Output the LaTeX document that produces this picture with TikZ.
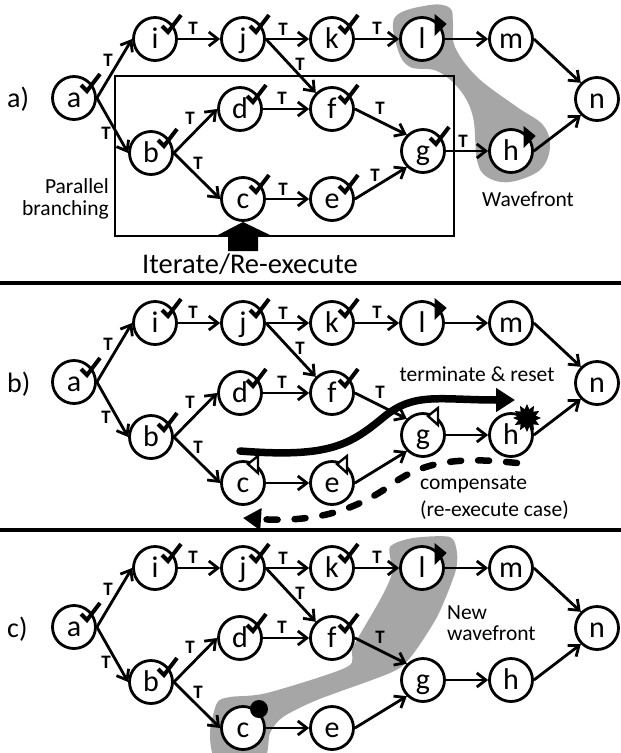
\documentclass[tikz,border=0pt]{standalone}
\usepackage{fontspec}
\setmainfont{Carlito}
\usetikzlibrary{arrows.meta,shapes.geometric}
\definecolor{wave}{HTML}{A6A6A6}
\tikzset{
  tasknode/.style={circle,draw=black,fill=white,line width=2.8pt,minimum size=43pt,inner sep=0pt,text height=18pt,text depth=0pt,font=\fontsize{30}{30}\selectfont},
  flow/.style={line width=2.8pt,-{Straight Barb[length=9pt,width=14pt,line width=2.8pt]}},
  checkmark/.style={line width=4pt,line cap=butt,line join=miter},
  tlabel/.style={font=\bfseries\fontsize{19}{19}\selectfont,inner sep=0pt},
  caption/.style={font=\fontsize{21.5}{21.5}\selectfont,inner sep=0pt},
  flagfull/.style={fill=black,draw=black,line width=1pt},
  flaghollow/.style={fill=white,draw=black,line width=2.4pt},
  wavefill/.style={fill=wave,draw=none},
  sep/.style={line width=4pt},
}
\newcommand{\chk}[1]{\draw[checkmark] ([shift={(7pt,13pt)}]#1.center) -- ([shift={(13pt,7pt)}]#1.center) -- ([shift={(26pt,24pt)}]#1.center);}
\newcommand{\flagf}[1]{\path[flagfull] ([shift={(13pt,24pt)}]#1.center) -- ([shift={(24pt,15pt)}]#1.center) -- ([shift={(13pt,4pt)}]#1.center) -- cycle;}
\newcommand{\flagh}[1]{\path[flaghollow] ([shift={(15pt,27pt)}]#1.center) -- ([shift={(5pt,19pt)}]#1.center) -- ([shift={(15pt,10pt)}]#1.center) -- cycle;}
\newcommand{\panelnodes}[1]{
  \node[tasknode] (a#1) at (74,98) {a};
  \node[tasknode] (i#1) at (155,39) {i};
  \node[tasknode] (j#1) at (243,39) {j};
  \node[tasknode] (k#1) at (332,39) {k};
  \node[tasknode] (l#1) at (422,39) {l};
  \node[tasknode] (m#1) at (511,39) {m};
  \node[tasknode] (n#1) at (597,99) {n};
  \node[tasknode] (b#1) at (151,153) {b};
  \node[tasknode] (d#1) at (240,109) {d};
  \node[tasknode] (f#1) at (332,109) {f};
  \node[tasknode] (g#1) at (423,151) {g};
  \node[tasknode] (h#1) at (511,151) {h};
  \node[tasknode] (c#1) at (243,199) {c};
  \node[tasknode] (e#1) at (332,199) {e};
  \draw[flow] (a#1.east) -- (i#1.west);
  \draw[flow] (a#1.east) -- (b#1.west);
  \draw[flow] (i#1) -- (j#1);
  \draw[flow] (j#1) -- (k#1);
  \draw[flow] (j#1.east) -- (f#1.north west);
  \draw[flow] (k#1) -- (l#1);
  \draw[flow] (l#1) -- (m#1);
  \draw[flow] (m#1.east) -- (n#1.north west);
  \draw[flow] (b#1.east) -- (d#1.west);
  \draw[flow] (b#1.east) -- (c#1.west);
  \draw[flow] (d#1) -- (f#1);
  \draw[flow] (f#1.east) -- (g#1.north west);
  \draw[flow] (c#1) -- (e#1);
  \draw[flow] (e#1.east) -- (g#1.south west);
  \draw[flow] (g#1) -- (h#1);
  \draw[flow] (h#1.east) -- (n#1.south west);
  \chk{a#1}\chk{i#1}\chk{j#1}\chk{k#1}\chk{b#1}\chk{d#1}\chk{f#1}
  \flagf{l#1}
  \node[tlabel] (ta#1) at (108,60) {T};
  \node[tlabel] (tb#1) at (106,133) {T};
  \node[tlabel] (tc#1) at (193,28) {T};
  \node[tlabel] (td#1) at (283,29) {T};
  \node[tlabel] (te#1) at (300,64) {T};
  \node[tlabel] (tf#1) at (377,28) {T};
  \node[tlabel] (tg#1) at (282,98) {T};
  \node[tlabel] (th#1) at (190,118) {T};
  \node[tlabel] (ti#1) at (198,163) {T};
  \node[tlabel] (tj#1) at (380,108) {T};
}
\begin{document}
\begin{tikzpicture}[x=1pt,y=-1pt]
\useasboundingbox (0,0) rectangle (621,753);
% panel a
\fill[wavefill] plot[smooth cycle,tension=0.6] coordinates {(395,17) (430,5) (450,8) (453,23) (455,47) (477,77) (517,107) (543,125) (550,147) (540,170) (510,182) (487,177) (477,160) (473,117) (460,90) (437,71) (410,67) (398,50)};
\node[draw,line width=2.8pt,minimum width=339pt,minimum height=160pt,inner sep=0pt] (frame) at (284.5,156) {};
\panelnodes{x}
\chk{cx}\chk{ex}\chk{gx}\flagf{hx}
\node[tlabel] (tkx) at (283,189) {T};
\node[tlabel] (tlx) at (375,175) {T};
\node[tlabel] (tmx) at (463,141) {T};
\fill[black] (243,222) -- (272,236) -- (258,236) -- (258,251) -- (228,251) -- (228,236) -- (216,236) -- cycle;
\node[caption,anchor=west,font=\fontsize{28}{28}\selectfont] (la) at (7,99) {a)};
\node[caption,align=right,anchor=east] (par) at (109,199) {Parallel\\branching};
\node[caption,font=\fontsize{28.5}{28.5}\selectfont] (iter) at (250,264) {Iterate/Re-execute};
\node[caption] (wf) at (528,199) {Wavefront};
\draw[sep] (0,283) -- (621,283);
% panel b
\begin{scope}[yshift=-284pt]
\panelnodes{y}
\flagh{gy}\flagh{cy}\flagh{ey}
\end{scope}
\node[star,star points=12,star point ratio=1.55,fill=black,minimum size=28pt,inner sep=0pt] (burst) at (527,418) {};
\draw[line width=7.5pt,-{Triangle[length=19pt,width=23pt]},line cap=round] (240,451) .. controls (330,458) and (350,445) .. (385,416) .. controls (415,392) and (440,400) .. (515,400);
\draw[line width=6.5pt,line cap=round,dash pattern=on 11pt off 17pt,-{Triangle[length=18pt,width=21pt]}] (517,463) .. controls (470,458) and (430,458) .. (395,482) .. controls (360,508) and (320,523) .. (243,518);
\node[caption] (term) at (477,374) {terminate \& reset};
\node[caption,anchor=west] (comp) at (420,484) {compensate};
\node[caption,anchor=west] (reex) at (420,510) {(re-execute case)};
\node[caption,anchor=west,font=\fontsize{28}{28}\selectfont] (lb) at (7,384) {b)};
\draw[sep] (0,530) -- (621,530);
% panel c
\fill[wavefill] plot[smooth cycle,tension=0.45] coordinates {(390,547) (413,538) (450,537) (457,553) (455,573) (437,617) (410,658) (390,673) (317,700) (283,717) (270,733) (263,760) (217,760) (210,733) (217,703) (230,697) (267,693) (347,667) (353,647) (380,600) (392,573)};
\begin{scope}[yshift=-529pt]
\panelnodes{z}
\end{scope}
\fill[black] (259,709) circle[radius=9];
\node[caption,align=left,anchor=west] (nw) at (447,623) {New\\wavefront};
\node[caption,anchor=west,font=\fontsize{28}{28}\selectfont] (lc) at (7,629) {c)};
\end{tikzpicture}
\end{document}
